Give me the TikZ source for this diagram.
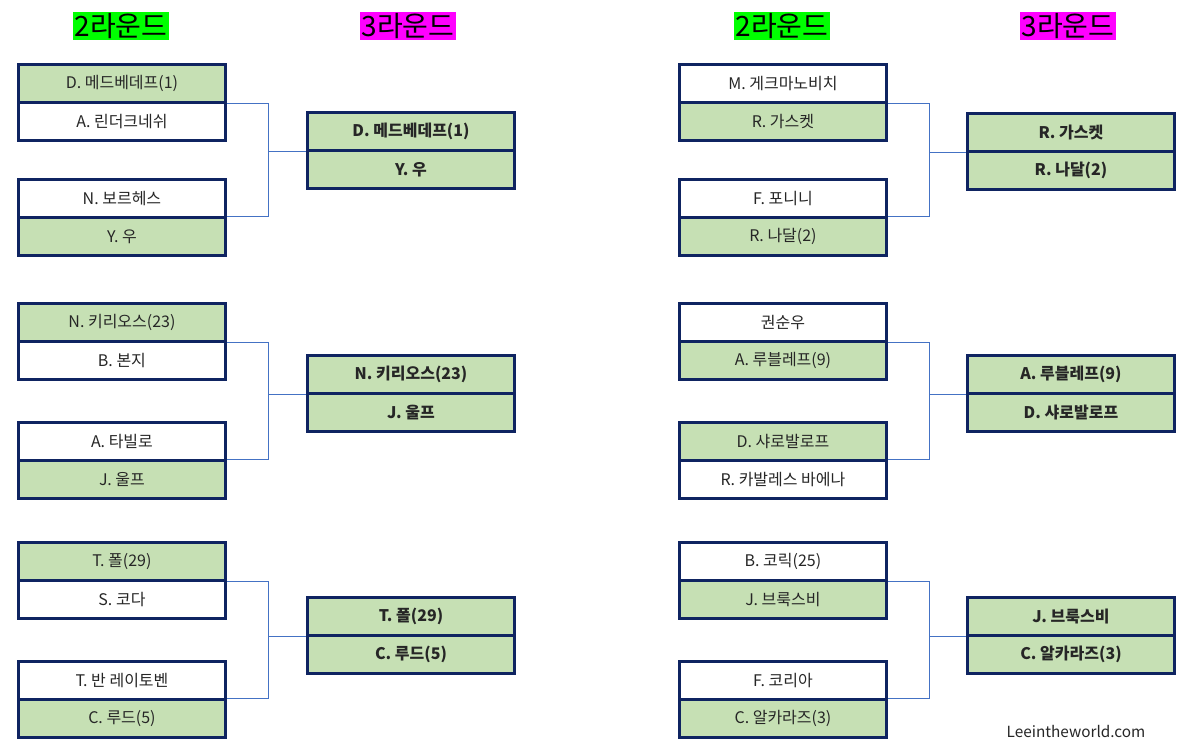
\documentclass[tikz,border=0pt]{standalone}
\usepackage{fontspec}
\setmainfont{Noto Sans CJK KR}
\definecolor{gfill}{HTML}{C6E0B4}
\definecolor{navy}{HTML}{0F2461}
\definecolor{conn}{HTML}{4472C4}
\definecolor{hgreen}{HTML}{00FF00}
\definecolor{hmag}{HTML}{FF00FF}
\begin{document}
\begin{tikzpicture}[x=0.75pt,y=-0.75pt,
  cell/.style={draw=navy,line width=2.2pt,minimum width=207*0.75pt,minimum height=38*0.75pt,inner sep=0pt,anchor=north west,font=\fontsize{12}{12}\selectfont,text=black!85},
  win/.style={cell,fill=gfill},
  lose/.style={cell,fill=white},
  bold/.style={font=\fontsize{12}{12}\selectfont\bfseries},
  hdr/.style={font=\fontsize{21}{21}\selectfont,inner sep=1pt,text=black},
  wire/.style={draw=conn,line width=0.7pt}]
\useasboundingbox (0,0) rectangle (1189,751);
% headers
\node[hdr,fill=hgreen] (h1) at (121,26) {2라운드};
\node[hdr,fill=hmag] (h2) at (408,26) {3라운드};
\node[hdr,fill=hgreen] (h3) at (782,26) {2라운드};
\node[hdr,fill=hmag] (h4) at (1068,26) {3라운드};
% generic pair macro: #1 name, #2 x, #3 y, #4 style1, #5 text1, #6 style2, #7 text2
\newcommand{\pairbox}[7]{%
  \node[#4] (#1a) at (#2,#3) {#5};
  \node[#6] (#1b) at (#2,#3+38) {#7};}
\newcommand{\bracket}[4]{% top pair, bottom pair, target, x
  \draw[wire] (#1a.south east) -- (#4,0 |- #1a.south east) -- (#4,0 |- #2b.north east) -- (#2b.north east);
  \draw[wire] (#4,0 |- #3a.south west) -- (#3a.south west);}
% left side
\pairbox{p1}{17}{63}{win}{D. 메드베데프(1)}{lose}{A. 린더크네쉬}
\pairbox{p2}{17}{178}{lose}{N. 보르헤스}{win}{Y. 우}
\pairbox{q1}{306}{111}{win,bold}{D. 메드베데프(1)}{win,bold}{Y. 우}
\bracket{p1}{p2}{q1}{268}
\pairbox{p3}{17}{302}{win}{N. 키리오스(23)}{lose}{B. 본지}
\pairbox{p4}{17}{421}{lose}{A. 타빌로}{win}{J. 울프}
\pairbox{q2}{306}{354}{win,bold}{N. 키리오스(23)}{win,bold}{J. 울프}
\bracket{p3}{p4}{q2}{268}
\pairbox{p5}{17}{541}{win}{T. 폴(29)}{lose}{S. 코다}
\pairbox{p6}{17}{660}{lose}{T. 반 레이토벤}{win}{C. 루드(5)}
\pairbox{q3}{306}{596}{win,bold}{T. 폴(29)}{win,bold}{C. 루드(5)}
\bracket{p5}{p6}{q3}{268}
% right side
\pairbox{r1}{678}{63}{lose}{M. 게크마노비치}{win}{R. 가스켓}
\pairbox{r2}{678}{178}{lose}{F. 포니니}{win}{R. 나달(2)}
\pairbox{s1}{966}{112}{win,bold}{R. 가스켓}{win,bold}{R. 나달(2)}
\bracket{r1}{r2}{s1}{929}
\pairbox{r3}{678}{302}{lose}{권순우}{win}{A. 루블레프(9)}
\pairbox{r4}{678}{421}{win}{D. 샤로발로프}{lose}{R. 카발레스 바에나}
\pairbox{s2}{966}{354}{win,bold}{A. 루블레프(9)}{win,bold}{D. 샤로발로프}
\bracket{r3}{r4}{s2}{929}
\pairbox{r5}{678}{541}{lose}{B. 코릭(25)}{win}{J. 브룩스비}
\pairbox{r6}{678}{660}{lose}{F. 코리아}{win}{C. 알카라즈(3)}
\pairbox{s3}{966}{596}{win,bold}{J. 브룩스비}{win,bold}{C. 알카라즈(3)}
\bracket{r5}{r6}{s3}{929}
\node[font=\fontsize{11.5}{11.5}\selectfont,text=black!85] (wm) at (1076,731) {Leeintheworld.com};
\end{tikzpicture}
\end{document}
